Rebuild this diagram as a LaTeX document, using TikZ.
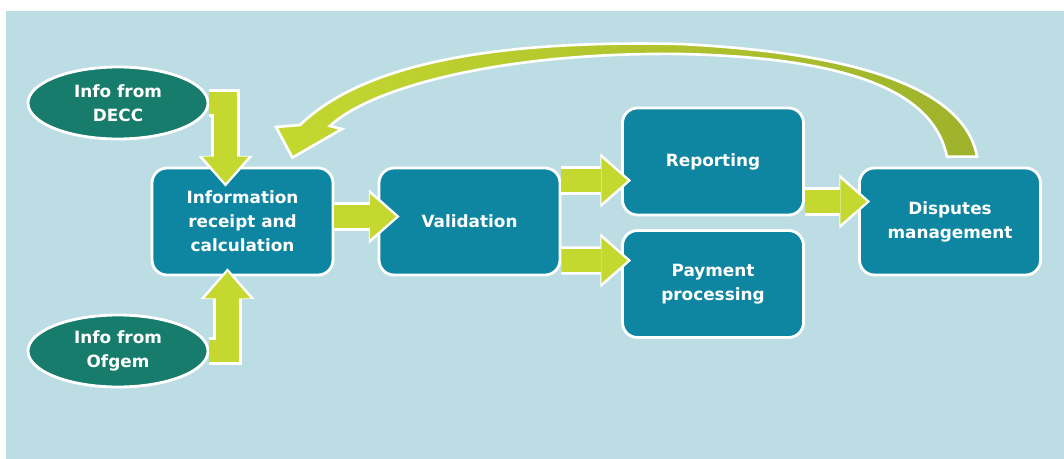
\documentclass[tikz,border=0pt]{standalone}
\usepackage{fontspec}
\setmainfont{DejaVu Sans}
\usetikzlibrary{shapes.geometric, arrows.meta, calc}

\definecolor{bgblue}{HTML}{BDDDE4}
\definecolor{boxblue}{HTML}{0E85A1}
\definecolor{srcgreen}{HTML}{187C6C}
\definecolor{flowgreen}{HTML}{C5D82F}
\definecolor{olivegreen}{HTML}{9EB22C}

\tikzset{
	every node/.style={font=\fontsize{9.6}{13.6}\selectfont\bfseries, text=white, align=center},
	task/.style={rectangle, rounded corners=0.3cm, fill=boxblue, draw=white, line width=1.6pt, minimum width=3.62cm, minimum height=2.14cm},
	source/.style={ellipse, fill=srcgreen, draw=white, line width=1.6pt, minimum width=3.6cm, minimum height=1.44cm, inner sep=1pt},
	flow/.style={draw=flowgreen, line width=13pt, shorten >=2pt, -{Triangle[width=26pt, length=15pt, line width=0pt]},
		preaction={draw=white, line width=16pt, shorten >=0pt, -{Triangle[width=31pt, length=17.5pt, line width=0pt]}}},
	backflow/.style={draw=white, line width=1.5pt, left color=flowgreen, middle color=flowgreen!85!olivegreen, right color=olivegreen},
}

\begin{document}
\begin{tikzpicture}[x=0.02cm, y=-0.02cm]
	% Canvas:
	\useasboundingbox (0,0) rectangle (1064,459);
	\fill[bgblue] (6,11) rectangle (1064,459);
	% Sources and process steps:
	\node[source] (decc) at (118,103) {Info from\\DECC};
	\node[source] (ofgem) at (118,351) {Info from\\Ofgem};
	\node[task] (info) at (242.5,221.5) {Information\\receipt and\\calculation};
	\node[task] (val) at (469.5,221.5) {Validation};
	\node[task] (rep) at (713,161.5) {Reporting};
	\node[task] (pay) at (713,284) {Payment\\processing};
	\node[task] (disp) at (950,221.5) {Disputes\\management};
	% Flow arrows:
	\draw[flow] (decc.east) -| ($(info.north)+(-17,20)$);
	\draw[flow] (ofgem.east) -| ($(info.south)+(-15,-8)$);
	\draw[flow] ($(info.east)+(0,-5)$) -- ($(val.west)+(22,-5)$);
	\draw[flow] ($(val.east)+(0,-41)$) -- ($(rep.west)+(10,19)$);
	\draw[flow] ($(val.east)+(0,39)$) -- ($(pay.west)+(10,-23.5)$);
	\draw[flow] ($(rep.east)+(0,40)$) -- ($(disp.west)+(12,-20)$);
	% Feedback arrow back to the start:
	\draw[backflow] ($(disp.north)+(27,-10)$)
		.. controls (968,105) and (900,55) .. (680,44)
		.. controls (500,40) and (365,62) .. (300,125)
		-- (276,127) -- ($(info.north east)+(-42,-9)$) -- (342,129) -- (330,126)
		.. controls (370,88) and (500,52) .. (680,54)
		.. controls (870,58) and (935,100) .. ($(disp.north)+(-3,-10)$) -- cycle;
\end{tikzpicture}
\end{document}
